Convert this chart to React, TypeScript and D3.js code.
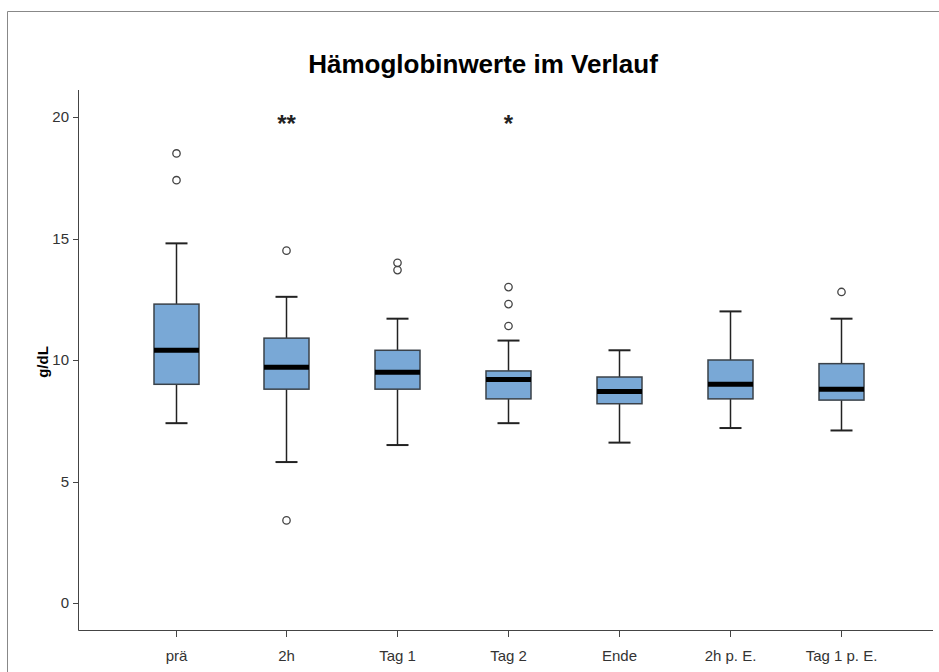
import { useEffect, useRef } from 'react';
import * as d3 from 'd3';

const categories = ['prä', '2h', 'Tag 1', 'Tag 2', 'Ende', '2h p. E.', 'Tag 1 p. E.'];
const whiskerLow = [7.4, 5.8, 6.5, 7.4, 6.6, 7.2, 7.1];
const q1 = [9.0, 8.8, 8.8, 8.4, 8.2, 8.4, 8.35];
const median = [10.4, 9.7, 9.5, 9.2, 8.7, 9.0, 8.8];
const q3 = [12.3, 10.9, 10.4, 9.55, 9.3, 10.0, 9.85];
const whiskerHigh = [14.8, 12.6, 11.7, 10.8, 10.4, 12.0, 11.7];
const outliers = [[17.4, 18.5], [14.5, 3.4], [13.7, 14.0], [11.4, 12.3, 13.0], [], [], [12.8]];
const marks = ['', '**', '', '*', '', '', ''];
const yTicks = [0, 5, 10, 15, 20];

const W = 939;
const H = 672;

export default function App() {
  const svgRef = useRef<SVGSVGElement>(null);

  useEffect(() => {
    if (!svgRef.current) return;
    const svg = d3.select(svgRef.current);
    svg.selectAll('*').remove();

    const x = d3.scalePoint<string>().domain(categories).range([175.5, 841]);
    const y = d3.scaleLinear().domain([0, 20]).range([603, 117]);
    const boxW = 45;
    const capW = 22;
    const font = 'Arial, "Liberation Sans", sans-serif';

    // outer frame (top and left edges only visible)
    svg.append('path')
      .attr('d', `M7.5,${H} V11.5 H${W}`)
      .attr('fill', 'none')
      .attr('stroke', '#888')
      .attr('stroke-width', 1);

    svg.append('text')
      .attr('x', 483)
      .attr('y', 73)
      .attr('text-anchor', 'middle')
      .style('font-family', font)
      .style('font-weight', 'bold')
      .style('font-size', '26px')
      .attr('fill', '#000')
      .text('Hämoglobinwerte im Verlauf');

    // axes
    svg.append('line')
      .attr('x1', 78.5).attr('x2', 78.5)
      .attr('y1', 90).attr('y2', 630.5)
      .attr('stroke', '#444');
    svg.append('line')
      .attr('x1', 78.5).attr('x2', 933)
      .attr('y1', 630.5).attr('y2', 630.5)
      .attr('stroke', '#444');

    const yt = svg.append('g');
    yTicks.forEach((t) => {
      yt.append('line')
        .attr('x1', 73).attr('x2', 78.5)
        .attr('y1', Math.round(y(t)) + 0.5).attr('y2', Math.round(y(t)) + 0.5)
        .attr('stroke', '#444');
      yt.append('text')
        .attr('x', 69)
        .attr('y', y(t))
        .attr('dy', '0.35em')
        .attr('text-anchor', 'end')
        .style('font-family', font)
        .style('font-size', '15px')
        .attr('fill', '#333')
        .text(t);
    });

    svg.append('text')
      .attr('transform', `translate(48,362) rotate(-90)`)
      .attr('text-anchor', 'middle')
      .style('font-family', font)
      .style('font-weight', 'bold')
      .style('font-size', '15px')
      .attr('fill', '#000')
      .text('g/dL');

    const xt = svg.append('g');
    categories.forEach((c) => {
      const cx = Math.round(x(c)!) + 0.5;
      xt.append('line')
        .attr('x1', cx).attr('x2', cx)
        .attr('y1', 630.5).attr('y2', 637)
        .attr('stroke', '#444');
      xt.append('text')
        .attr('x', cx)
        .attr('y', 661)
        .attr('text-anchor', 'middle')
        .style('font-family', font)
        .style('font-size', '15px')
        .attr('fill', '#333')
        .text(c);
    });

    // boxes
    categories.forEach((c, i) => {
      const cx = Math.round(x(c)!) + 0.5;
      const g = svg.append('g');
      g.append('line')
        .attr('x1', cx).attr('x2', cx)
        .attr('y1', y(whiskerHigh[i])).attr('y2', y(q3[i]))
        .attr('stroke', '#222').attr('stroke-width', 1.5);
      g.append('line')
        .attr('x1', cx).attr('x2', cx)
        .attr('y1', y(q1[i])).attr('y2', y(whiskerLow[i]))
        .attr('stroke', '#222').attr('stroke-width', 1.5);
      [whiskerHigh[i], whiskerLow[i]].forEach((v) => {
        g.append('line')
          .attr('x1', cx - capW / 2).attr('x2', cx + capW / 2)
          .attr('y1', y(v)).attr('y2', y(v))
          .attr('stroke', '#222').attr('stroke-width', 2);
      });
      g.append('rect')
        .attr('x', cx - boxW / 2)
        .attr('y', y(q3[i]))
        .attr('width', boxW)
        .attr('height', y(q1[i]) - y(q3[i]))
        .attr('fill', '#79a8d6')
        .attr('stroke', '#3a4148')
        .attr('stroke-width', 1.5);
      g.append('line')
        .attr('x1', cx - boxW / 2).attr('x2', cx + boxW / 2)
        .attr('y1', y(median[i])).attr('y2', y(median[i]))
        .attr('stroke', '#000').attr('stroke-width', 5);
      outliers[i].forEach((v) => {
        g.append('circle')
          .attr('cx', cx).attr('cy', y(v))
          .attr('r', 3.7)
          .attr('fill', '#fff')
          .attr('stroke', '#444')
          .attr('stroke-width', 1.3);
      });
      if (marks[i]) {
        g.append('text')
          .attr('x', cx)
          .attr('y', 132)
          .attr('text-anchor', 'middle')
          .style('font-family', font)
          .style('font-weight', 'bold')
          .style('font-size', '24px')
          .attr('fill', '#222')
          .text(marks[i]);
      }
    });
  }, []);

  return (
    <svg
      ref={svgRef}
      width={W}
      height={H}
      style={{ position: 'absolute', left: 0, top: 0, background: '#fff' }}
    />
  );
}
